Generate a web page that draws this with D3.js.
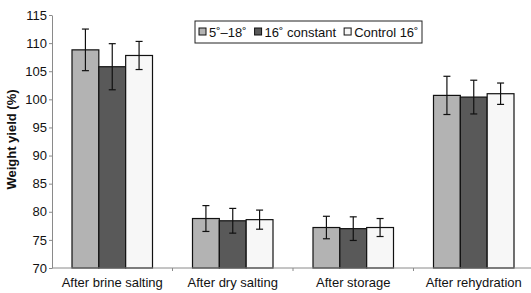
<!DOCTYPE html>
<html>
<head>
<meta charset="utf-8">
<script src="https://cdn.jsdelivr.net/npm/d3@7"></script>
<style>
  body { margin: 0; background: #fff; }
  svg text { font-family: Arial, "Liberation Sans", Helvetica, sans-serif; fill: #111; }
  .axis path, .axis line { stroke: #8a8a8a; stroke-width: 1; }
</style>
</head>
<body>
<svg width="531" height="293"></svg>
<script>
// values
const stages = ["After brine salting", "After dry salting", "After storage", "After rehydration"];
const seriesNames = ["5˚–18˚", "16˚ constant", "Control 16˚"];
const seriesColors = ["#b3b3b3", "#595959", "#f7f7f7"];
const warm = [108.8, 78.8, 77.2, 100.7];
const warmErr = [3.7, 2.3, 2.0, 3.4];
const constant = [105.8, 78.4, 77.0, 100.4];
const constantErr = [4.1, 2.2, 2.1, 3.0];
const control = [107.8, 78.6, 77.2, 101.0];
const controlErr = [2.5, 1.7, 1.6, 1.9];
const yTicks = [70, 75, 80, 85, 90, 95, 100, 105, 110, 115];

const values = [warm, constant, control];
const errs = [warmErr, constantErr, controlErr];

const svg = d3.select("svg");
const margin = { left: 52, right: -3, top: 15, bottom: 25 };
const W = 531, H = 293;

const x = d3.scaleBand().domain(stages).range([margin.left, W - margin.right]).paddingInner(0).paddingOuter(0);
const y = d3.scaleLinear().domain([70, 115]).range([H - margin.bottom, margin.top]);
const inner = d3.scaleBand().domain(d3.range(3)).range([20, x.bandwidth() - 20]).padding(0);

// bars
stages.forEach((s, i) => {
  const g = svg.append("g").attr("transform", `translate(${x(s)},0)`);
  const data = d3.range(3).map((k) => ({ k, v: values[k][i], e: errs[k][i] }));
  g.selectAll("rect")
    .data(data)
    .join("rect")
    .attr("x", (d) => inner(d.k))
    .attr("y", (d) => y(d.v))
    .attr("width", inner.bandwidth())
    .attr("height", (d) => y(70) - y(d.v))
    .attr("fill", (d) => seriesColors[d.k])
    .attr("stroke", "#111")
    .attr("stroke-width", 1.2);
  // error bars
  const eb = g.selectAll("g.err").data(data).join("g").attr("class", "err")
    .attr("stroke", "#111").attr("stroke-width", 1.2);
  eb.append("line")
    .attr("x1", (d) => inner(d.k) + inner.bandwidth() / 2)
    .attr("x2", (d) => inner(d.k) + inner.bandwidth() / 2)
    .attr("y1", (d) => y(d.v + d.e))
    .attr("y2", (d) => y(d.v - d.e));
  [1, -1].forEach((sgn) => {
    eb.append("line")
      .attr("x1", (d) => inner(d.k) + inner.bandwidth() / 2 - 3.5)
      .attr("x2", (d) => inner(d.k) + inner.bandwidth() / 2 + 3.5)
      .attr("y1", (d) => y(d.v + sgn * d.e))
      .attr("y2", (d) => y(d.v + sgn * d.e));
  });
});

// y axis
const yAxis = svg.append("g").attr("class", "axis")
  .attr("transform", `translate(${margin.left},0)`)
  .call(d3.axisLeft(y).tickValues(yTicks).tickSize(3).tickSizeOuter(0).tickPadding(2));
yAxis.selectAll("text").style("font-size", "13px").attr("fill", "#111");

// x axis with ticks at the category boundaries
const xAxis = svg.append("g").attr("class", "axis")
  .attr("transform", `translate(0,${y(70)})`);
xAxis.append("line").attr("x1", margin.left).attr("x2", W).attr("y1", 0).attr("y2", 0);
xAxis.selectAll("line.tk")
  .data(stages.slice(1))
  .join("line")
  .attr("class", "tk")
  .attr("x1", (d) => x(d)).attr("x2", (d) => x(d))
  .attr("y1", 0).attr("y2", 3);
xAxis.selectAll("text")
  .data(stages)
  .join("text")
  .attr("x", (d) => x(d) + x.bandwidth() / 2)
  .attr("y", 19)
  .attr("text-anchor", "middle")
  .style("font-size", "13px")
  .text((d) => d);

// y title
svg.append("text")
  .attr("transform", `translate(16,${(y(70) + y(115)) / 2 - 2}) rotate(-90)`)
  .attr("text-anchor", "middle")
  .style("font-size", "13px")
  .style("font-weight", "bold")
  .text("Weight yield (%)");

// legend
const lg = svg.append("g").attr("transform", "translate(195,21)");
lg.append("rect").attr("width", 227).attr("height", 22)
  .attr("fill", "#fff").attr("stroke", "#222").attr("stroke-width", 1);
let cx = 4;
seriesNames.forEach((name, i) => {
  const it = lg.append("g").attr("transform", `translate(${cx},0)`);
  it.append("rect").attr("y", 7).attr("width", 7).attr("height", 7)
    .attr("fill", seriesColors[i]).attr("stroke", "#111").attr("stroke-width", 1);
  const t = it.append("text").attr("x", 10).attr("y", 15.5)
    .style("font-size", "13px")
    .text(name);
  cx += 10 + t.node().getComputedTextLength() + 8;
});
</script>
</body>
</html>
